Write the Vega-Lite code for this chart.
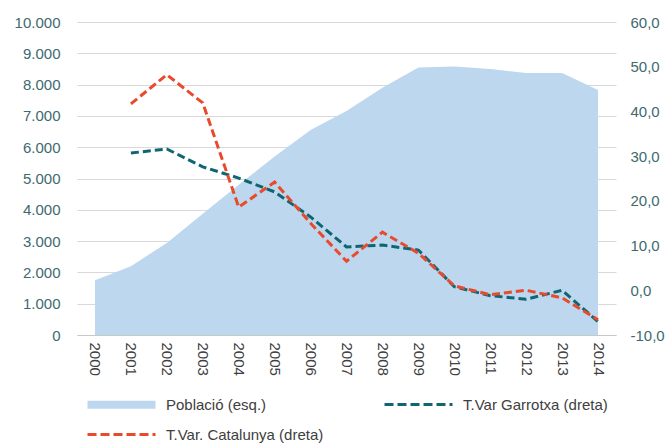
{
  "$schema": "https://vega.github.io/schema/vega-lite/v6.json",
  "width": 539,
  "height": 313,
  "autosize": {"type": "none"},
  "padding": {"left": 77, "top": 22, "right": 53, "bottom": 108},
  "background": "white",
  "config": {
    "view": {"stroke": null},
    "font": "Liberation Sans",
    "axis": {"labelFont": "Liberation Sans", "labelFontSize": 15},
    "legend": {
      "title": null,
      "orient": "none",
      "legendX": 5,
      "legendY": 375,
      "direction": "horizontal",
      "columns": 2,
      "columnPadding": 54,
      "rowPadding": 13,
      "gridAlign": "all",
      "symbolType": "M-1,0H33",
      "symbolSize": 16,
      "symbolStrokeWidth": 3,
      "labelOffset": 69,
      "labelFont": "Liberation Sans",
      "labelFontSize": 15,
      "labelColor": "#404040",
      "labelLimit": 300
    }
  },
  "data": {
    "values": [
      {"year": "2000", "pob": 1750, "garrotxa": null, "catalunya": null},
      {"year": "2001", "pob": 2200, "garrotxa": 30.7, "catalunya": 41.7},
      {"year": "2002", "pob": 2940, "garrotxa": 31.6, "catalunya": 48.2},
      {"year": "2003", "pob": 3870, "garrotxa": 27.6, "catalunya": 41.9},
      {"year": "2004", "pob": 4800, "garrotxa": 25.1, "catalunya": 18.6},
      {"year": "2005", "pob": 5700, "garrotxa": 22.0, "catalunya": 24.2},
      {"year": "2006", "pob": 6550, "garrotxa": 16.4, "catalunya": 15.0},
      {"year": "2007", "pob": 7160, "garrotxa": 9.7, "catalunya": 6.5},
      {"year": "2008", "pob": 7900, "garrotxa": 10.1, "catalunya": 13.0},
      {"year": "2009", "pob": 8550, "garrotxa": 9.0, "catalunya": 8.3},
      {"year": "2010", "pob": 8580, "garrotxa": 0.8, "catalunya": 1.0},
      {"year": "2011", "pob": 8500, "garrotxa": -1.2, "catalunya": -1.0},
      {"year": "2012", "pob": 8370, "garrotxa": -2.0, "catalunya": 0.0},
      {"year": "2013", "pob": 8370, "garrotxa": 0.0, "catalunya": -1.7},
      {"year": "2014", "pob": 7830, "garrotxa": -7.0, "catalunya": -6.6}
    ]
  },
  "encoding": {
    "x": {
      "field": "year",
      "type": "ordinal",
      "scale": {"type": "point", "padding": 0.5},
      "axis": {
        "title": null,
        "labelAngle": 90,
        "labelAlign": "left",
        "labelBaseline": "middle",
        "labelPadding": 7,
        "labelColor": "#404040",
        "ticks": false,
        "domainColor": "#c8c8c8",
        "grid": false
      }
    }
  },
  "layer": [
    {
      "transform": [
        {"fold": ["pob"], "as": ["serie", "pval"]}
      ],
      "mark": {"type": "area", "opacity": 1},
      "encoding": {
        "y": {
          "field": "pval",
          "type": "quantitative",
          "scale": {"domain": [0, 10000]},
          "axis": {
            "title": null,
            "values": [0, 1000, 2000, 3000, 4000, 5000, 6000, 7000, 8000, 9000, 10000],
            "labelExpr": "replace(format(datum.value, ','), ',', '.')",
            "labelColor": "#3e6a70",
            "labelPadding": 17,
            "ticks": false,
            "domain": false,
            "grid": true,
            "gridColor": "#d9d9d9",
            "gridWidth": 1
          }
        },
        "color": {
          "field": "serie",
          "type": "nominal",
          "scale": {
            "domain": ["pob", "garrotxa", "catalunya"],
            "range": ["#bdd7ee", "#0e6672", "#e84a2c"]
          },
          "legend": {
            "title": null,
            "labelExpr": "datum.value === 'pob' ? 'Població (esq.)' : datum.value === 'garrotxa' ? 'T.Var Garrotxa (dreta)' : 'T.Var. Catalunya (dreta)'",
            "encode": {
              "symbols": {
                "update": {
                  "shape": {"signal": "datum.value === 'pob' ? 'M-1,-2H33V2H-1Z' : 'M-1,-1.25M-1,1.25M-1,0H33'"},
                  "fill": {"signal": "datum.value === 'pob' ? '#bdd7ee' : 'transparent'"},
                  "stroke": {"signal": "datum.value === 'pob' ? 'transparent' : datum.value === 'garrotxa' ? '#0e6672' : '#e84a2c'"},
                  "strokeWidth": {"signal": "datum.value === 'pob' ? 0 : 3"},
                  "strokeDash": {"value": [9, 4]},
                  "opacity": {"value": 1}
                }
              }
            }
          }
        }
      }
    },
    {
      "transform": [
        {"fold": ["garrotxa", "catalunya"], "as": ["serie", "val"]}
      ],
      "mark": {"type": "line", "strokeWidth": 3, "strokeDash": [8, 4]},
      "encoding": {
        "y": {
          "field": "val",
          "type": "quantitative",
          "scale": {"domain": [-10, 60]},
          "axis": {
            "title": null,
            "orient": "right",
            "values": [-10, 0, 10, 20, 30, 40, 50, 60],
            "labelExpr": "replace(replace(format(datum.value, '.1f'), '.', ','), '\u2212', '-')",
            "labelColor": "#3e6a70",
            "labelPadding": 14,
            "ticks": false,
            "domain": false,
            "grid": false
          }
        },
        "color": {
          "field": "serie",
          "type": "nominal",
          "legend": {
            "title": null,
            "labelExpr": "datum.value === 'pob' ? 'Població (esq.)' : datum.value === 'garrotxa' ? 'T.Var Garrotxa (dreta)' : 'T.Var. Catalunya (dreta)'",
            "encode": {
              "symbols": {
                "update": {
                  "shape": {"signal": "datum.value === 'pob' ? 'M-1,-2H33V2H-1Z' : 'M-1,-1.25M-1,1.25M-1,0H33'"},
                  "fill": {"signal": "datum.value === 'pob' ? '#bdd7ee' : 'transparent'"},
                  "stroke": {"signal": "datum.value === 'pob' ? 'transparent' : datum.value === 'garrotxa' ? '#0e6672' : '#e84a2c'"},
                  "strokeWidth": {"signal": "datum.value === 'pob' ? 0 : 3"},
                  "strokeDash": {"value": [9, 4]},
                  "opacity": {"value": 1}
                }
              }
            }
          }
        }
      }
    }
  ],
  "resolve": {"scale": {"y": "independent"}}
}
